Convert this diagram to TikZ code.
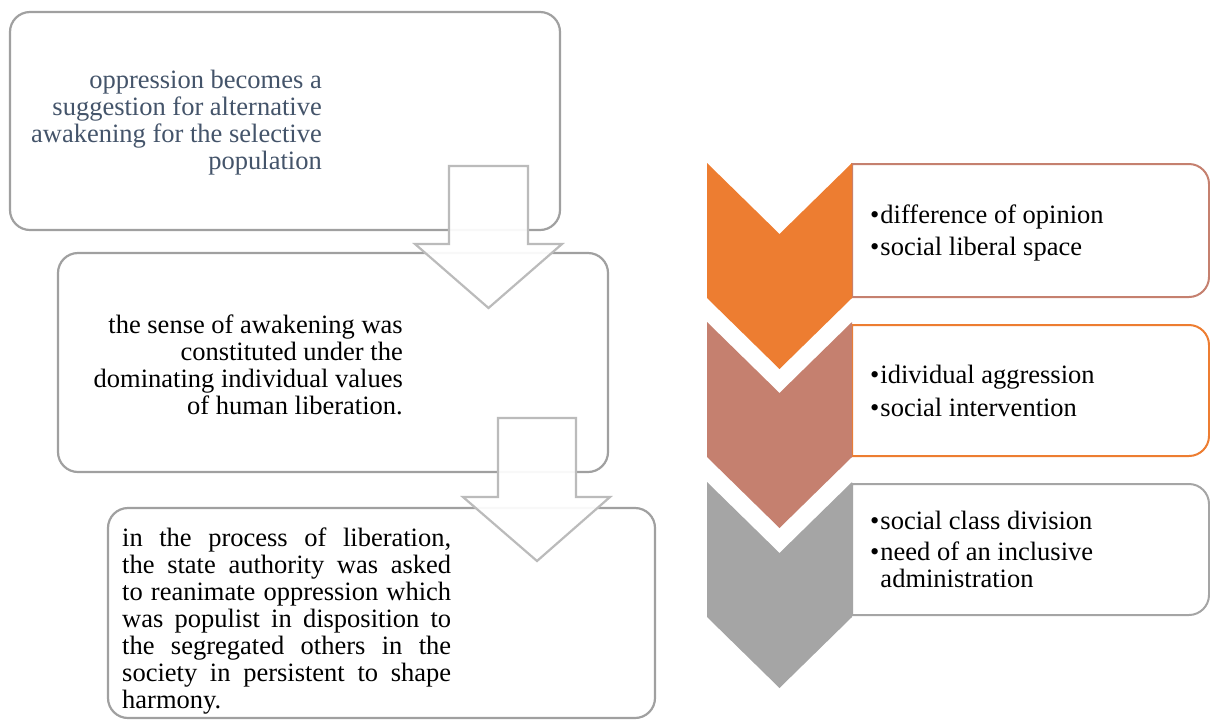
\documentclass[tikz,border=0pt]{standalone}
\usepackage{fontspec}
\setmainfont{Liberation Serif}
\definecolor{boxgray}{HTML}{A0A0A0}
\definecolor{arrgray}{HTML}{BBBBBB}
\definecolor{txtslate}{HTML}{44546A}
\definecolor{corange}{HTML}{ED7D31}
\definecolor{cbrown}{HTML}{C5806F}
\definecolor{cgray}{HTML}{A5A5A5}
\tikzset{
  lbox/.style={draw=boxgray, line width=2.2pt, rounded corners=20pt, fill=white, inner sep=0pt, outer sep=0pt},
  blockarrow/.style={draw=arrgray, line width=2.2pt, fill=white, fill opacity=0.93, line join=miter},
  ltext/.style={font=\fontsize{26.5}{27}\selectfont, inner sep=0pt},
  rtext/.style={font=\fontsize{26.5}{27}\selectfont, inner sep=0pt, anchor=west},
  rbox/.style={line width=2pt, fill=white},
  chev/.style={draw=none},
}
\newcommand{\rboxpath}[3]{% color, top, bottom
  \draw[rbox, draw=#1] (852,#2) -- (1189,#2) .. controls (1200,#2) and (1209,#2+9) .. (1209,#2+20)
    -- (1209,#3-20) .. controls (1209,#3-9) and (1200,#3) .. (1189,#3) -- (852,#3) -- cycle;}
\newcommand{\chevpath}[2]{% color, top
  \fill[chev, #1] (707,#2) -- (779.5,#2+71) -- (852,#2) -- (852,#2+135) -- (779.5,#2+206) -- (707,#2+135) -- cycle;}
\begin{document}
\begin{tikzpicture}[x=1pt,y=-1pt]
\useasboundingbox (0,0) rectangle (1210,721);

% left boxes
\node[lbox, anchor=north west, minimum width=550pt, minimum height=218pt] (b1) at (10,12) {};
\node[lbox, anchor=north west, minimum width=550pt, minimum height=219pt] (b2) at (58,253) {};
\node[lbox, anchor=north west, minimum width=547pt, minimum height=210pt] (b3) at (108,508) {};

% block arrows
\draw[blockarrow] (449,166) -- (528,166) -- (528,244) -- (562,244) -- (488.5,308) -- (415,244) -- (449,244) -- cycle;
\draw[blockarrow] (498,418) -- (576,418) -- (576,497) -- (610,497) -- (537,561) -- (463,497) -- (498,497) -- cycle;

% left texts
\node[ltext, align=right, text=txtslate, anchor=east] (t1) at (322,123)
  {oppression becomes a\\suggestion for alternative\\awakening for the selective\\population};
\node[ltext, align=right, anchor=east] (t2) at (403,365)
  {the sense of awakening was\\constituted under the\\dominating individual values\\of human liberation.};
\node[ltext, align=justify, text width=329pt, anchor=west] (t3) at (122,621)
  {in the process of liberation,\linebreak the state authority was asked\linebreak to reanimate oppression which\linebreak was populist in disposition to\linebreak the segregated others in the\linebreak society in persistent to shape\linebreak harmony.};

% right boxes
\rboxpath{cbrown}{164}{297}
\rboxpath{corange}{325}{456}
\rboxpath{cgray}{484}{615}

% chevrons
\chevpath{corange}{163}
\chevpath{cbrown}{322}
\chevpath{cgray}{482}

% right texts
\node[rtext] (r1) at (870,234)
  {\begin{tabular}{@{}l@{\hspace{1pt}}l@{}}\textbullet & difference of opinion\\[5pt] \textbullet & social liberal space\end{tabular}};
\node[rtext] (r2) at (870,395)
  {\begin{tabular}{@{}l@{\hspace{1pt}}l@{}}\textbullet & idividual aggression\\[6pt] \textbullet & social intervention\end{tabular}};
\node[rtext] (r3) at (870,553)
  {\begin{tabular}{@{}l@{\hspace{1pt}}l@{}}\textbullet & social class division\\[4pt] \textbullet & need of an inclusive\\ & administration\end{tabular}};
\end{tikzpicture}
\end{document}
